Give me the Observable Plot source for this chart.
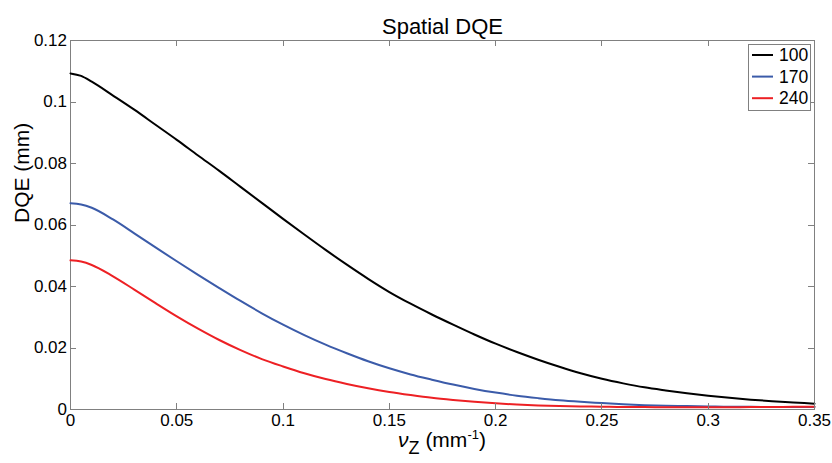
<!DOCTYPE html>
<html><head><meta charset="utf-8">
<script src="https://cdn.jsdelivr.net/npm/d3@7"></script>
<script src="https://cdn.jsdelivr.net/npm/@observablehq/plot@0.6"></script>
<style>body{margin:0;background:#fff} svg{display:block}</style>
</head><body><div id="chart"></div>
<script>
const freq = [0,0.005,0.01,0.02,0.03,0.04,0.05,0.06,0.07,0.08,0.09,0.10,0.11,0.12,0.13,0.14,0.15,0.16,0.17,0.18,0.19,0.20,0.21,0.22,0.23,0.24,0.25,0.26,0.27,0.28,0.29,0.30,0.31,0.32,0.33,0.34,0.35];
const dqe100 = [0.1093,0.1085,0.1066,0.1021,0.0975,0.0926,0.0877,0.0826,0.0776,0.0724,0.0672,0.0620,0.0569,0.0519,0.0471,0.0425,0.0382,0.0344,0.0309,0.0276,0.0244,0.0214,0.0187,0.0162,0.0139,0.0118,0.0100,0.0085,0.0072,0.0062,0.0053,0.0045,0.0038,0.0032,0.0027,0.0023,0.0019];
const dqe170 = [0.0671,0.0667,0.0656,0.0618,0.0573,0.0527,0.0482,0.0438,0.0395,0.0353,0.0313,0.0276,0.0242,0.0211,0.0183,0.0157,0.0134,0.0114,0.0097,0.0081,0.0067,0.0055,0.0045,0.0037,0.0030,0.0025,0.0021,0.0017,0.0014,0.0012,0.0011,0.0010,0.0009,0.0009,0.0008,0.0008,0.0008];
const dqe240 = [0.0485,0.0481,0.0470,0.0433,0.0390,0.0346,0.0303,0.0263,0.0226,0.0193,0.0164,0.0140,0.0118,0.0099,0.0083,0.0069,0.0057,0.0047,0.0038,0.0031,0.0025,0.0020,0.0016,0.0013,0.0011,0.0010,0.0009,0.0008,0.0008,0.0007,0.0007,0.0007,0.0007,0.0008,0.0008,0.0009,0.0009];
const seriesNames = ["100","170","240"];
const seriesColors = ["#000000","#3b5ba9","#ed2024"];
const xTicks = [0,0.05,0.1,0.15,0.2,0.25,0.3,0.35];
const yTicks = [0,0.02,0.04,0.06,0.08,0.1,0.12];
const titleText = "Spatial DQE";
const yLabel = "DQE (mm)";

const seriesValues = [dqe100, dqe170, dqe240];
const data = [];
seriesNames.forEach((s, i) => freq.forEach((f, j) => data.push({f, v: seriesValues[i][j], s})));
const fmt = d => String(+d.toFixed(3));
const axisGray = "#808080";
const W = 832, H = 463, mL = 70, mR = 18, mT = 40, mB = 54, tk = 6;

const chart = Plot.plot({
  width: W, height: H,
  marginLeft: mL, marginRight: mR, marginTop: mT, marginBottom: mB,
  style: {fontFamily: "Liberation Sans, Arial, sans-serif", fontSize: "17px", background: "#fff", color: "#000"},
  x: {domain: [0, 0.35]},
  y: {domain: [0, 0.12]},
  color: {domain: seriesNames, range: seriesColors},
  marks: [
    Plot.axisX(xTicks, {anchor: "bottom", tickSize: 0, tickPadding: 4, tickFormat: fmt, fill: "#000", fontSize: 17, label: null}),
    Plot.axisY(yTicks, {anchor: "left", tickSize: 0, tickPadding: 3.5, tickFormat: fmt, fill: "#000", fontSize: 17, label: null}),
    Plot.frame({stroke: axisGray}),
    Plot.line(data, {x: "f", y: "v", z: "s", stroke: "s", strokeWidth: 2, curve: "monotone-x"}),
    Plot.text([titleText], {text: d => d, frameAnchor: "top", dy: -22, fontSize: 22}),
    Plot.text([yLabel], {text: d => d, frameAnchor: "left", rotate: -90, dx: -48, dy: -2, fontSize: 21})
  ]
});
document.getElementById("chart").appendChild(chart);

const svg = d3.select(chart);
const xs = chart.scale("x"), ys = chart.scale("y");
const [xa, xb] = xs.range, [ya, yb] = ys.range;
const tg = svg.append("g").attr("stroke", axisGray).attr("stroke-width", 1);
xTicks.forEach(t => {
  const px = Math.round(xs.apply(t)) + 0.5;
  tg.append("line").attr("x1", px).attr("x2", px).attr("y1", ya).attr("y2", ya - tk);
  tg.append("line").attr("x1", px).attr("x2", px).attr("y1", yb).attr("y2", yb + tk);
});
yTicks.forEach(t => {
  const py = Math.round(ys.apply(t)) + 0.5;
  tg.append("line").attr("y1", py).attr("y2", py).attr("x1", xa).attr("x2", xa + tk);
  tg.append("line").attr("y1", py).attr("y2", py).attr("x1", xb).attr("x2", xb - tk);
});

const cx = (xa + xb) / 2;
const xl = svg.append("text")
  .attr("x", cx).attr("y", 447).attr("text-anchor", "middle")
  .attr("font-size", 21).attr("fill", "#000");
xl.append("tspan").attr("font-style", "italic").text("ν");
xl.append("tspan").attr("dy", 7).attr("font-size", 18).text("Z");
xl.append("tspan").attr("dy", -7).text(" (mm");
xl.append("tspan").attr("dy", -8).attr("font-size", 13).text("-1");
xl.append("tspan").attr("dy", 8).text(")");

const lg = svg.append("g").attr("text-anchor", "start");
lg.append("rect").attr("x", 748.5).attr("y", 44.5).attr("width", 62).attr("height", 66)
  .attr("fill", "#fff").attr("stroke", axisGray);
seriesNames.forEach((s, i) => {
  const y = 55 + i * 21.6;
  lg.append("line").attr("x1", 752).attr("x2", 773).attr("y1", y).attr("y2", y)
    .attr("stroke", seriesColors[i]).attr("stroke-width", 2);
  lg.append("text").attr("x", 779).attr("y", y + 6).attr("font-size", 17.5).attr("fill", "#000").text(s);
});
</script>
</body></html>
